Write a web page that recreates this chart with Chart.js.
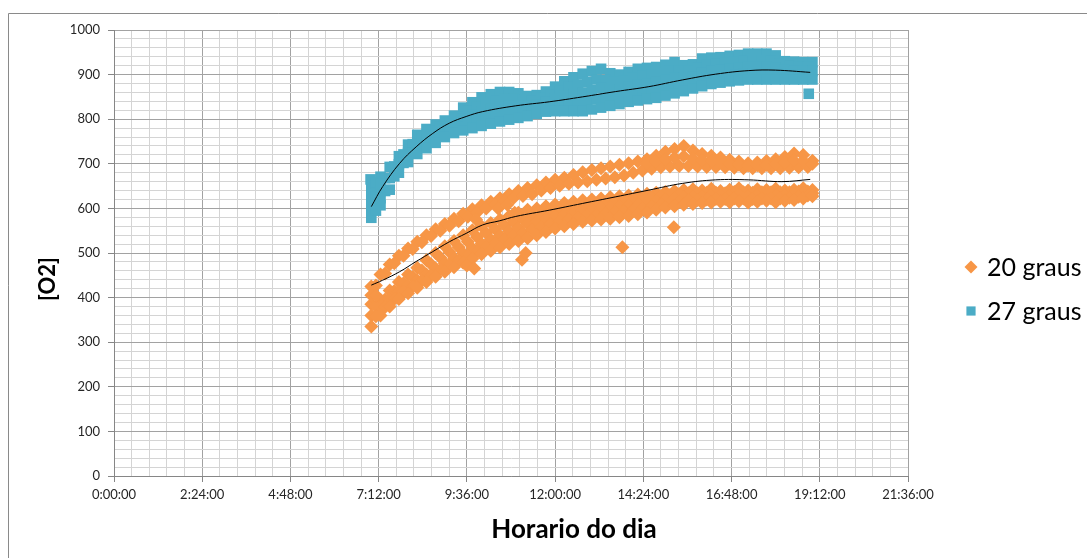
<!DOCTYPE html>
<html><head><meta charset="utf-8">
<script src="https://cdn.jsdelivr.net/npm/chart.js@4.4.0/dist/chart.umd.min.js"></script>
<style>html,body{margin:0;padding:0;background:#fff;}#wrap{width:1087px;height:558px;}</style>
</head><body><div id="wrap"><canvas id="c" width="1087" height="558"></canvas></div>
<script>
// ---- DATA (hours of day, [O2] values) ----
const seriesNames = ['20 graus', '27 graus'];
const timesA = [7.0,7.25,7.5,7.75,8.0,8.25,8.5,8.75,9.0,9.25,9.5,9.75,10.0,10.25,10.5,10.75,11.0,11.25,11.5,11.75,12.0,12.25,12.5,12.75,13.0,13.25,13.5,13.75,14.0,14.25,14.5,14.75,15.0,15.25,15.5,15.75,16.0,16.25,16.5,16.75,17.0,17.25,17.5,17.75,18.0,18.25,18.5,18.75,19.0];
const timesB = [7.125,7.375,7.625,7.875,8.125,8.375,8.625,8.875,9.125,9.375,9.625,9.875,10.125,10.375,10.625,10.875,11.125,11.375,11.625,11.875,12.125,12.375,12.625,12.875,13.125,13.375,13.625,13.875,14.125,14.375,14.625,14.875,15.125,15.375,15.625,15.875,16.125,16.375,16.625,16.875,17.125,17.375,17.625,17.875,18.125,18.375,18.625,18.875];
const timesC = [14.5,14.75,15.0,15.25,15.5,15.75,16.0,16.25,16.5,16.75,17.0,17.25,17.5,17.75,18.0,18.25,18.5,18.75,19.0];

// 27 graus: overlapping runs, from the top of the cloud to its bottom
const teal1A = [650,671,693,717,743,765,778,788,797,808,826,838,849,856,861,861,858,852,854,862,873,885,894,902,908,913,903,900,906,913,915,917,922,928,921,923,936,938,939,942,944,947,947,947,943,930,929,928,928];
const teal2B = [644,668,694,721,744,761,773,783,793,806,818,828,836,842,845,845,843,842,847,855,864,872,878,884,889,888,884,887,893,897,899,903,908,908,908,915,922,924,927,929,931,932,932,931,925,920,918,918];
const teal3A = [615,639,668,699,724,744,757,768,779,789,801,809,817,823,828,830,831,830,833,840,846,852,856,860,865,870,867,867,873,878,880,883,888,893,892,896,905,909,911,914,916,918,918,918,916,910,909,908,908];
const teal4B = [610,639,672,702,724,740,752,764,774,784,791,798,804,809,813,816,818,820,826,830,834,836,838,841,846,848,850,853,858,861,864,868,873,876,880,886,892,895,898,900,902,903,903,903,901,899,899,898];
const teal5A = [579,607,642,680,704,722,735,747,760,769,775,780,785,790,795,799,803,807,812,817,818,818,818,818,822,826,830,834,839,842,845,848,853,858,863,869,874,879,882,885,887,889,889,889,889,889,889,889,889];
const tealExtraX = [6.98, 18.9, 7.0, 7.0, 7.125, 7.125, 7.125, 7.25, 7.25];
const tealExtraY = [665, 857, 597, 632, 595, 627, 658, 623, 655];

// 20 graus: upper strand (three runs) and lower strand (five runs)
const orangeUp1A = [425,452,474,494,510,525,540,553,565,577,588,598,607,615,623,632,639,646,652,658,664,669,675,681,686,690,694,698,701,705,710,718,727,733,740,730,722,718,714,709,705,701,703,706,710,715,723,720,707];
const orangeUp2B = [427,454,477,494,509,524,538,550,561,571,581,591,600,609,617,624,628,632,640,646,651,655,658,661,664,667,670,674,680,685,689,692,694,695,695,694,693,693,692,691,690,690,690,690,690,691,692,693];
const orangeUp3C = [700,705,710,714,717,712,708,706,703,700,698,696,697,698,700,703,707,706,700];
const orangeLo1A = [385,395,416,435,452,467,484,500,515,527,540,551,560,567,575,583,590,597,600,605,609,612,615,618,620,622,625,627,629,631,633,635,637,639,641,643,640,644,639,642,645,640,643,641,644,640,642,645,641];
const orangeLo2B = [380,396,415,432,446,461,475,490,502,513,525,536,545,553,562,569,576,583,588,593,597,601,604,607,610,612,614,617,619,621,624,627,630,632,634,634,635,635,634,637,636,635,636,636,636,636,638,638];
const orangeLo3A = [360,378,397,413,427,439,452,465,477,488,499,510,521,530,539,548,556,565,570,576,582,586,590,594,597,599,601,604,606,609,612,616,620,622,625,627,626,629,627,628,631,627,629,629,629,629,631,634,634];
const orangeLo4B = [358,379,397,412,425,437,450,462,473,483,494,504,513,522,530,538,545,552,558,565,571,575,580,584,586,588,591,593,596,600,604,609,612,615,618,619,620,621,621,622,622,621,622,622,622,624,626,629];
const orangeLo5A = [335,360,380,397,410,422,435,447,458,468,478,487,497,505,513,520,527,533,540,547,555,560,565,570,573,575,577,580,583,587,591,597,602,605,608,610,612,613,615,614,616,613,615,617,614,617,619,622,627];
const orangeExtraX = [9.6, 9.8, 9.85, 10.45, 10.7, 10.9, 11.1, 11.2, 13.83, 15.23, 7.0, 7.125];
const orangeExtraY = [472, 465, 575, 600, 608, 590, 485, 500, 513, 558, 405, 405];

// trend lines (black)
const trend27X = [7.0,7.31,7.77,8.22,8.67,9.12,9.58,10.03,10.93,11.84,12.74,13.65,14.55,15.46,16.37,17.27,17.99,18.94];
const trend27Y = [604,649,701,738,768,791,806,817,830,839,850,862,873,888,901,909,910,905];
const trend20X = [7.0,7.31,7.77,8.22,8.67,9.12,9.58,10.03,10.48,10.93,11.84,12.74,13.65,14.55,15.46,16.37,17.27,18.17,18.94];
const trend20Y = [428,439,458,481,503,525,544,563,572,582,596,611,626,641,656,664,664,660,665];

// axis ranges (hours)
const xMin = 0, xMax = 21.6, xMinorStep = 0.48;
const yMin = 0, yMax = 1000, yMinorStep = 20;

// ---- build ----
const pts = (xs, ys) => xs.map((x, i) => ({x: x, y: ys[i]}));
const orangePts = [].concat(
  pts(timesA, orangeUp1A), pts(timesB, orangeUp2B), pts(timesC, orangeUp3C),
  pts(timesA, orangeLo1A), pts(timesB, orangeLo2B), pts(timesA, orangeLo3A), pts(timesB, orangeLo4B), pts(timesA, orangeLo5A),
  pts(orangeExtraX, orangeExtraY));
const tealPts = [].concat(
  pts(timesA, teal1A), pts(timesB, teal2B), pts(timesA, teal3A), pts(timesB, teal4B), pts(timesA, teal5A),
  pts(tealExtraX, tealExtraY));

const ORANGE = '#F79646', TEAL = '#4BACC6';
const fmt = v => { const m = Math.round(v * 60); return Math.floor(m / 60) + ':' + String(m % 60).padStart(2, '0') + ':00'; };

const decor = {
  id: 'decor',
  beforeDraw(chart) {
    const ctx = chart.ctx;
    ctx.save();
    ctx.fillStyle = '#fff';
    ctx.fillRect(0, 0, chart.width, chart.height);
    ctx.strokeStyle = '#8a8a8a';
    ctx.lineWidth = 1;
    ctx.beginPath();
    ctx.moveTo(8.5, chart.height);
    ctx.lineTo(8.5, 13.5);
    ctx.lineTo(chart.width, 13.5);
    ctx.stroke();
    ctx.restore();
  },
  afterDraw(chart) {
    const ctx = chart.ctx;
    ctx.save();
    ctx.fillStyle = '#000';
    ctx.textAlign = 'center';
    ctx.textBaseline = 'middle';
    ctx.font = 'bold 26px Lato';
    ctx.fillText('Horario do dia', 574, 530);
    ctx.save();
    ctx.translate(48, 279);
    ctx.rotate(-Math.PI / 2);
    ctx.font = 'bold 22px Lato';
    ctx.fillText('[O2]', 0, 0);
    ctx.restore();
    // legend
    ctx.textAlign = 'left';
    ctx.font = '25px Lato';
    ctx.fillStyle = ORANGE;
    Chart.helpers.drawPoint(ctx, {pointStyle: 'rectRot', radius: 6.5, borderWidth: 0}, 971, 267);
    ctx.fillStyle = TEAL;
    Chart.helpers.drawPoint(ctx, {pointStyle: 'rect', radius: 6.5, borderWidth: 0}, 971, 311);
    ctx.fillStyle = '#000';
    ctx.fillText(seriesNames[0], 987, 268);
    ctx.fillText(seriesNames[1], 987, 312);
    ctx.restore();
  }
};

const gridCol = c => (c.index % 5 === 0 ? '#a2a2a2' : '#d4d4d4');
const tickCol = c => (c.index % 5 === 0 ? '#868686' : 'rgba(0,0,0,0)');

new Chart(document.getElementById('c'), {
  type: 'scatter',
  data: {
    datasets: [
      {type: 'line', label: 'trend 20', data: pts(trend20X, trend20Y), borderColor: '#000', borderWidth: 1, pointRadius: 0, tension: 0.4, fill: false, order: 0},
      {type: 'line', label: 'trend 27', data: pts(trend27X, trend27Y), borderColor: '#000', borderWidth: 1, pointRadius: 0, tension: 0.4, fill: false, order: 0},
      {label: seriesNames[0], data: orangePts, pointStyle: 'rectRot', pointRadius: 7, pointBorderWidth: 0, backgroundColor: ORANGE, borderColor: ORANGE, order: 2},
      {label: seriesNames[1], data: tealPts, pointStyle: 'rect', pointRadius: 7.5, pointBorderWidth: 0, backgroundColor: TEAL, borderColor: TEAL, order: 1}
    ]
  },
  options: {
    responsive: false,
    animation: false,
    devicePixelRatio: 1,
    layout: {padding: {left: 0, top: 30, right: 179, bottom: 0}},
    plugins: {legend: {display: false}, tooltip: {enabled: false}},
    scales: {
      x: {
        type: 'linear', min: xMin, max: xMax,
        afterFit(s) { s.height = 82; },
        ticks: {stepSize: xMinorStep, autoSkip: false, maxRotation: 0, minRotation: 0, padding: 5,
          font: {family: 'Lato', size: 13}, color: '#262626',
          callback: (v, i) => (i % 5 === 0 ? fmt(v) : '')},
        grid: {color: gridCol, tickColor: tickCol, tickLength: 6, lineWidth: 1},
        border: {color: '#868686'}
      },
      y: {
        min: yMin, max: yMax,
        afterFit(s) { s.width = 114; },
        ticks: {stepSize: yMinorStep, autoSkip: false, padding: 8,
          font: {family: 'Lato', size: 13}, color: '#262626',
          callback: (v, i) => (i % 5 === 0 ? String(v) : '')},
        grid: {color: gridCol, tickColor: tickCol, tickLength: 6, lineWidth: 1},
        border: {color: '#868686'}
      }
    }
  },
  plugins: [decor]
});
</script>
</body></html>
